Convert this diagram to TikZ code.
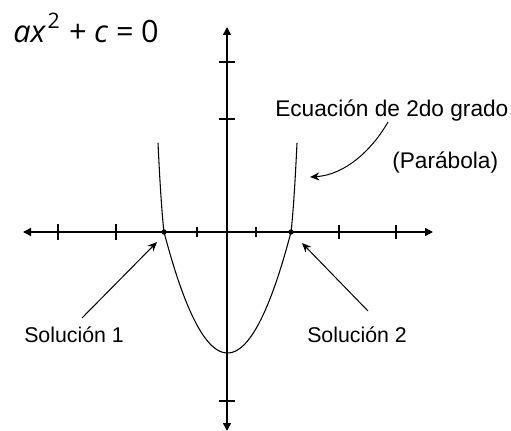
\documentclass[tikz,border=0pt]{standalone}
\usepackage{fontspec}
\setmainfont{Liberation Sans}
\newfontfamily\eqfont{Open Sans}
\usetikzlibrary{arrows.meta}
\begin{document}
\begin{tikzpicture}[x=0.75pt,y=-0.75pt,
  axis/.style={line width=1.1pt,{Triangle[length=6pt,width=6pt]}-{Triangle[length=6pt,width=6pt]}},
  tick/.style={line width=1.1pt},
  curve/.style={line width=0.8pt},
  ptr/.style={line width=0.75pt,-{Stealth[length=7pt,width=6pt]}},
  lab/.style={inner sep=0pt,anchor=base west,font=\fontsize{16}{19}\selectfont},
  labb/.style={lab,font=\fontsize{17}{20}\selectfont},
  dot/.style={circle,fill=black,inner sep=0pt,minimum size=4pt}]
\useasboundingbox (0,0) rectangle (511,431);
% axes
\coordinate (xl) at (23,232); \coordinate (xr) at (433,232);
\coordinate (yt) at (227,27); \coordinate (yb) at (227,431);
\draw[axis] (xl) -- (xr);
\draw[axis] (yb) -- (yt);
\foreach \x/\h in {58/8,116/8,197/5,256/5,339/7,396/7}
  \draw[tick] (\x,{232-\h}) -- (\x,{232+\h});
\foreach \y in {62,119,401}
  \draw[tick] (219,\y) -- (235,\y);
% parabola
\coordinate (pl) at (158,143); \coordinate (pr) at (297,143);
\draw[curve] (pl) .. controls (160,185) and (162,215) .. (164,232)
  -- plot[domain=-63.5:63.5,samples=60] ({227.5+\x},{353-0.03*\x*\x})
  .. controls (293,215) and (295,185) .. (pr);
\node[dot] (r1) at (164,232) {};
\node[dot] (r2) at (291,232) {};
% equation
\node[inner sep=0pt,anchor=base west,font=\eqfont\fontsize{23}{26}\selectfont] (eq) at (13,43)
  {\textit{ax}\hspace{0.05em}\raisebox{0.48em}{\fontsize{16}{18}\selectfont 2}\hspace{0.3em}+\hspace{0.25em}\textit{c}\hspace{0.25em}=\hspace{0.25em}0};
% labels
\node[labb] (ecu) at (275,117) {Ecuación de 2do grado};
\node[labb] (par) at (392,169) {(Parábola)};
\node[lab] (s1) at (24,342) {Solución 1};
\node[lab] (s2) at (307,342) {Solución 2};
% pointers
\coordinate (c0) at (388,122); \coordinate (t0) at (310,177);
\draw[ptr] (c0) .. controls (372,150) and (345,175) .. (t0);
\coordinate (a1) at (82,318); \coordinate (t1) at (157,242);
\draw[ptr] (a1) -- (t1);
\coordinate (a2) at (368,311); \coordinate (t2) at (302,243);
\draw[ptr] (a2) -- (t2);
\end{tikzpicture}
\end{document}
